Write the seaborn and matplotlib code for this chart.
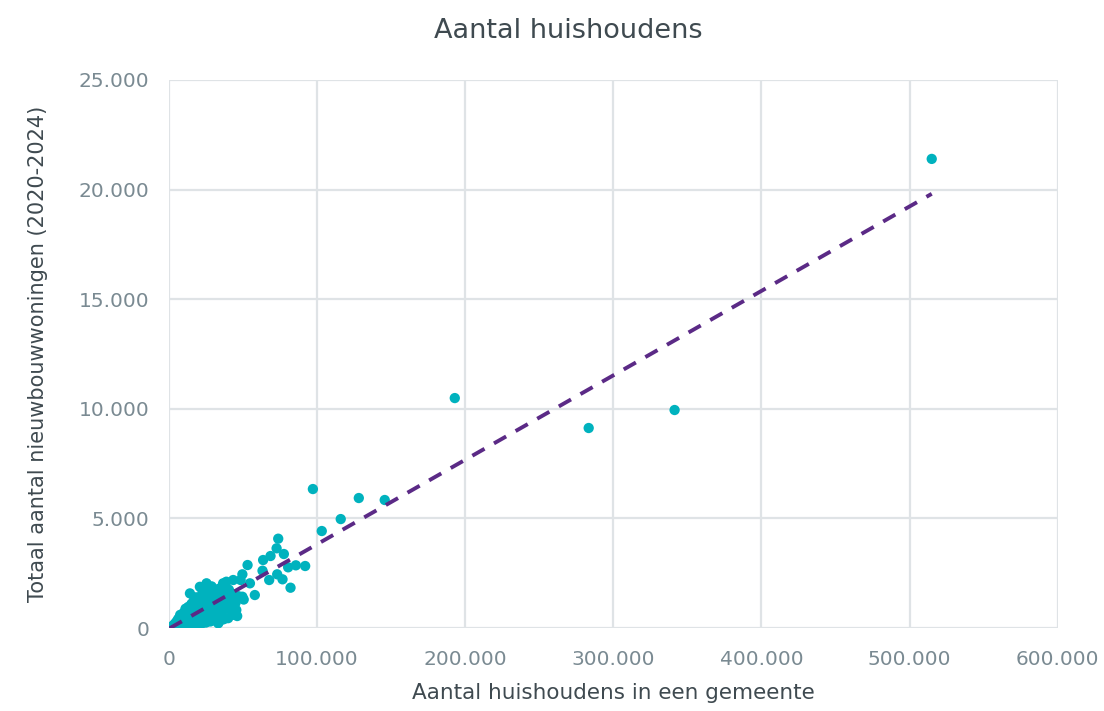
import numpy as np
import pandas as pd
import seaborn as sns
import matplotlib
matplotlib.use("Agg")
import matplotlib.pyplot as plt

# Households (in thousands) and new-build dwellings 2020-2024
households_k = [
    0.5, 1.0, 1.5, 2.0, 2.2, 3.0, 3.5, 4.0, 4.5, 5.0, 5.2, 5.8, 6.0, 6.3, 6.8, 7.0, 7.3, 7.6,
    8.0, 8.2, 8.5, 8.8, 9.0, 9.2, 9.5, 9.8, 10.0, 10.2, 10.5, 10.8, 11.0, 11.2, 11.5, 11.8,
    12.0, 12.2, 12.5, 12.8, 13.0, 13.2, 13.5, 13.8, 14.0, 14.2, 14.5, 14.8, 15.0, 15.2, 15.5,
    15.8, 16.0, 16.2, 16.5, 16.8, 17.0, 17.2, 17.5, 17.8, 18.0, 18.3, 18.5, 18.8, 19.0, 19.3,
    19.5, 19.8, 20.0, 20.5, 20.9, 21.0, 21.3, 21.6, 22.0, 22.3, 22.6, 23.0, 23.3, 23.6, 24.0,
    24.3, 24.7, 25.0, 25.4, 25.8, 26.0, 26.4, 26.8, 27.0, 27.4, 27.8, 28.0, 28.4, 28.8, 29.0,
    29.5, 30.0, 30.4, 30.8, 31.0, 31.5, 32.0, 32.5, 33.0, 33.3, 33.8, 34.0, 34.5, 35.0, 35.5,
    36.0, 36.6, 37.0, 37.5, 38.0, 38.8, 39.0, 39.5, 40.0, 40.5, 41.0, 41.8, 42.5, 43.4, 44.0,
    45.0, 45.5, 46.1, 47.0, 48.4, 49.6, 49.6, 50.5, 53.1, 54.7, 58.0, 63.6, 63.2, 67.7, 68.6,
    72.7, 73.1, 73.8, 76.7, 77.6, 80.5, 82.1, 85.7, 92.0,
    18.0, 22.0, 25.0, 28.0, 31.0, 34.0, 37.0, 40.0, 43.0, 2.5, 3.8, 1.2, 6.5,
    97.2, 103.2, 116.0, 128.2, 145.7, 193.0, 283.4, 341.4, 515.0,
]
new_dwellings = [
    10, 20, 60, 30, 40, 120, 80, 200, 150, 90, 300, 250, 180, 420, 120, 350, 230, 600,
    280, 160, 450, 90, 380, 520, 220, 310, 700, 150, 420, 260, 540, 880, 330, 190,
    620, 450, 780, 300, 960, 520, 240, 700, 400, 1580, 850, 560, 320, 1100, 650,
    430, 900, 200, 760, 1250, 540, 350, 1000, 680, 420, 1400, 820, 260, 600, 1150,
    480, 900, 720, 380, 1880, 1050, 640, 1300, 850, 500, 1600, 980, 300, 1200, 760,
    1450, 560, 1000, 2040, 1300, 700, 1750, 900, 1150, 450, 1500, 820, 1250, 1900, 600,
    1050, 1400, 750, 1650, 1100, 900, 1300, 500, 1550, 214, 1000, 1800, 1200, 700, 1450,
    1050, 2040, 1300, 850, 1600, 2112, 1150, 1400, 900, 1750, 1250, 1000, 1550, 2190, 1300,
    1150, 821, 547, 1450, 2190, 2450, 1428, 1300, 2874, 2039, 1505, 3102, 2614, 2190, 3285,
    3636, 2450, 4075, 2222, 3376, 2769, 1839, 2860, 2829,
    150, 200, 250, 300, 350, 300, 400, 450, 600, 50, 100, 30, 150,
    6340, 4425, 4970, 5930, 5840, 10490, 9124, 9945, 21400,
]

x_ticks = [0, 100000, 200000, 300000, 400000, 500000, 600000]
y_ticks = [0, 5000, 10000, 15000, 20000, 25000]

title = "Aantal huishoudens"
x_label = "Aantal huishoudens in een gemeente"
y_label = "Totaal aantal nieuwbouwwoningen (2020-2024)"

df = pd.DataFrame({
    "households": np.array(households_k) * 1000,
    "dwellings": new_dwellings,
})

sns.set_theme(style="white")
plt.rcParams["font.family"] = ["DejaVu Sans"]

fig = plt.figure(figsize=(11.04, 7.11), dpi=100)
ax = fig.add_axes([0.153, 0.1167, 0.805, 0.7708])

teal = "#00B2BE"
purple = "#5B2A86"
grid_c = "#DFE3E6"
tick_c = "#7A8A92"
text_c = "#3F4A50"

sns.scatterplot(data=df, x="households", y="dwellings", ax=ax, color=teal,
                s=55, edgecolor="none", linewidth=0, zorder=3, legend=False)
sns.regplot(data=df, x="households", y="dwellings", ax=ax, scatter=False, ci=None,
            line_kws=dict(color=purple, linewidth=2.8, linestyle=(0, (3.6, 2.8)), zorder=4))

ax.set_xlim(x_ticks[0], x_ticks[-1])
ax.set_ylim(y_ticks[0], y_ticks[-1])
ax.set_xticks(x_ticks)
ax.set_yticks(y_ticks)
fmt = lambda v: f"{v:,}".replace(",", ".")
ax.set_xticklabels([fmt(v) for v in x_ticks])
ax.set_yticklabels([fmt(v) for v in y_ticks])
ax.tick_params(axis="both", length=0, labelsize=14.5, colors=tick_c)
ax.tick_params(axis="x", pad=16)
ax.tick_params(axis="y", pad=14)
ax.grid(True, color=grid_c, linewidth=1.6, zorder=0)
ax.set_axisbelow(True)
for s in ax.spines.values():
    s.set_visible(False)

ax.set_xlabel(x_label, fontsize=15.5, color=text_c, labelpad=10)
ax.set_ylabel(y_label, fontsize=15, color=text_c, labelpad=22)
fig.suptitle(title, x=0.515, y=0.975, fontsize=19.5, color=text_c)

fig.savefig("out.png", dpi=100, facecolor="white")
